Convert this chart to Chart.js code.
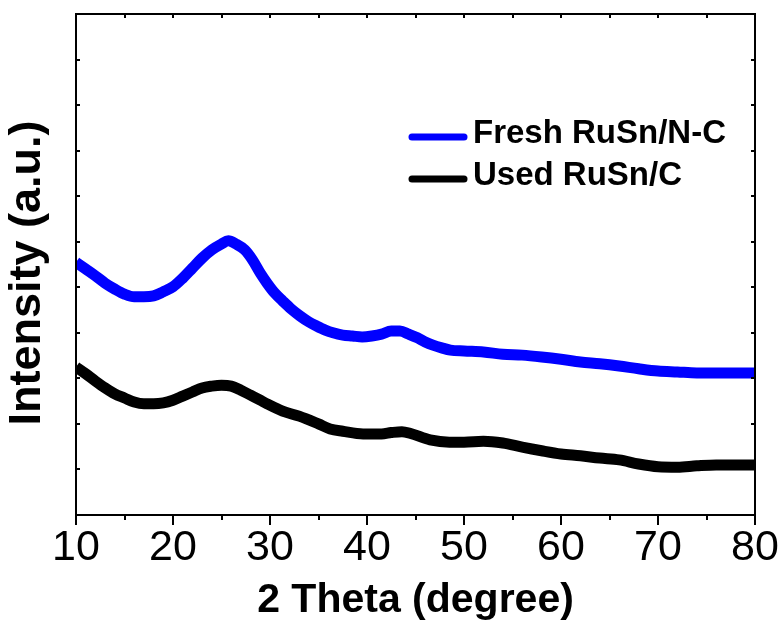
<!DOCTYPE html>
<html>
<head>
<meta charset="utf-8">
<title>XRD patterns</title>
<script src="https://cdn.jsdelivr.net/npm/chart.js@4.4.1/dist/chart.umd.min.js"></script>
<style>
  html, body { margin: 0; padding: 0; background: #ffffff; }
  #wrap { width: 781px; height: 625px; }
</style>
</head>
<body>
<div id="wrap"><canvas id="xrd" width="781" height="625"></canvas></div>
<script>
// 2θ positions (degree) and intensities (a.u.) of the two XRD patterns
const thetaFresh = [10, 11, 12, 13, 14, 15, 16, 17, 18, 19, 20, 21, 22, 23, 24, 25, 25.7, 26.5, 27.4, 28.2, 29, 29.7, 30.5, 31.3, 32.2, 33.1, 34, 34.8, 35.7, 36.5, 37.5, 38.5, 39.5, 40.5, 41.5, 42.5, 43.4, 44.3, 45.2, 46, 46.8, 47.7, 48.6, 50, 52, 54, 56, 58, 60, 62, 64, 66, 68, 70, 72, 74, 76, 78, 80];
const freshIntensity = [5.55, 5.40, 5.25, 5.09, 4.96, 4.85, 4.79, 4.79, 4.81, 4.90, 5.01, 5.20, 5.42, 5.64, 5.82, 5.95, 6.02, 5.95, 5.82, 5.60, 5.31, 5.09, 4.87, 4.70, 4.52, 4.37, 4.24, 4.15, 4.06, 4.00, 3.95, 3.93, 3.91, 3.93, 3.97, 4.04, 4.04, 3.97, 3.89, 3.80, 3.73, 3.67, 3.62, 3.60, 3.58, 3.53, 3.51, 3.47, 3.42, 3.36, 3.32, 3.27, 3.21, 3.16, 3.14, 3.12, 3.12, 3.12, 3.12];

const thetaUsed = [10, 11, 12, 13, 14, 15, 16, 17, 18, 19, 20, 21, 22, 23, 24, 25, 26, 27, 28, 29, 29.7, 31.3, 33, 35, 36.2, 37.5, 39.6, 41.5, 42.5, 43.6, 44.5, 46.5, 48.5, 50, 52, 54, 56, 58, 60, 62, 64, 66, 68, 70, 72, 74, 76, 78, 80];
const usedIntensity = [3.25, 3.10, 2.94, 2.79, 2.66, 2.57, 2.48, 2.44, 2.44, 2.46, 2.52, 2.61, 2.70, 2.79, 2.83, 2.85, 2.83, 2.74, 2.63, 2.52, 2.44, 2.28, 2.17, 2.00, 1.89, 1.84, 1.78, 1.78, 1.81, 1.83, 1.79, 1.65, 1.60, 1.60, 1.62, 1.58, 1.49, 1.41, 1.34, 1.30, 1.25, 1.21, 1.12, 1.06, 1.05, 1.08, 1.10, 1.10, 1.10];

const seriesLabels = ['Fresh RuSn/N-C', 'Used RuSn/C'];
const seriesColors = ['#0000ff', '#000000'];

// axis ticks
const xMajorTicks = [10, 20, 30, 40, 50, 60, 70, 80];
const xMinorTicks = [15, 25, 35, 45, 55, 65, 75];
const yTicks = [0, 1, 2, 3, 4, 5, 6, 7, 8, 9, 10, 11];

const FONT = "'Liberation Sans', Arial, Helvetica, sans-serif";

function toPoints(xs, ys) {
  return xs.map((x, i) => ({ x: x, y: ys[i] }));
}

// Closed frame with small inward ticks, outward ticks on the bottom axis
const framePlugin = {
  id: 'frame',
  afterDatasetsDraw(chart) {
    const { ctx, chartArea: a, scales: { x, y } } = chart;
    ctx.save();
    ctx.strokeStyle = '#000';
    ctx.lineWidth = 2;
    ctx.lineCap = 'butt';
    ctx.strokeRect(a.left, a.top, a.right - a.left, a.bottom - a.top);
    ctx.beginPath();
    yTicks.forEach(v => {
      const py = Math.round(y.getPixelForValue(v));
      ctx.moveTo(a.left, py); ctx.lineTo(a.left + 4, py);
      ctx.moveTo(a.right, py); ctx.lineTo(a.right - 4, py);
    });
    xMajorTicks.forEach(v => {
      const px = Math.round(x.getPixelForValue(v));
      ctx.moveTo(px, a.bottom); ctx.lineTo(px, a.bottom + 10);
      ctx.moveTo(px, a.top); ctx.lineTo(px, a.top + 4);
    });
    xMinorTicks.forEach(v => {
      const px = Math.round(x.getPixelForValue(v));
      ctx.moveTo(px, a.bottom); ctx.lineTo(px, a.bottom + 5);
      ctx.moveTo(px, a.top); ctx.lineTo(px, a.top + 4);
    });
    ctx.stroke();
    ctx.restore();
  }
};

// Rotated y-axis title
const yTitlePlugin = {
  id: 'yTitle',
  afterDraw(chart) {
    const { ctx } = chart;
    ctx.save();
    ctx.translate(28, 273);
    ctx.rotate(-Math.PI / 2);
    ctx.fillStyle = '#000';
    ctx.font = 'bold 45px ' + FONT;
    ctx.textAlign = 'center';
    ctx.textBaseline = 'middle';
    ctx.fillText('Intensity (a.u.)', 0, 0);
    ctx.restore();
  }
};

// Legend inside the plot area
const legendPlugin = {
  id: 'insideLegend',
  afterDraw(chart) {
    const { ctx } = chart;
    const rows = [137, 179];
    ctx.save();
    chart.data.datasets.forEach((ds, i) => {
      const yy = rows[i];
      ctx.strokeStyle = ds.borderColor;
      ctx.lineWidth = 7;
      ctx.lineCap = 'round';
      ctx.beginPath();
      ctx.moveTo(412, yy);
      ctx.lineTo(464, yy);
      ctx.stroke();
      ctx.fillStyle = '#000';
      ctx.font = 'bold 33px ' + FONT;
      ctx.textAlign = 'left';
      ctx.textBaseline = 'middle';
      ctx.fillText(ds.label, 473, yy - 3);
    });
    ctx.restore();
  }
};

new Chart(document.getElementById('xrd'), {
  type: 'line',
  data: {
    datasets: [
      {
        label: seriesLabels[0],
        data: toPoints(thetaFresh, freshIntensity),
        borderColor: seriesColors[0],
        backgroundColor: seriesColors[0],
        borderWidth: 11,
        pointRadius: 0,
        cubicInterpolationMode: 'monotone',
        fill: false,
        clip: 0
      },
      {
        label: seriesLabels[1],
        data: toPoints(thetaUsed, usedIntensity),
        borderColor: seriesColors[1],
        backgroundColor: seriesColors[1],
        borderWidth: 11,
        pointRadius: 0,
        cubicInterpolationMode: 'monotone',
        fill: false,
        clip: 0
      }
    ]
  },
  options: {
    responsive: false,
    animation: false,
    devicePixelRatio: 1,
    layout: { padding: { left: 76, right: 26, top: 14, bottom: 0 } },
    plugins: {
      legend: { display: false },
      tooltip: { enabled: false },
      title: { display: false }
    },
    scales: {
      x: {
        type: 'linear',
        min: 10,
        max: 80,
        grid: { display: false, drawTicks: false },
        border: { display: false },
        afterBuildTicks(scale) {
          scale.ticks = xMajorTicks.map(v => ({ value: v }));
        },
        ticks: {
          color: '#000',
          padding: 7,
          maxRotation: 0,
          autoSkip: false,
          font: { family: FONT, size: 43, lineHeight: 1.2 }
        },
        title: {
          display: true,
          text: '2 Theta (degree)',
          color: '#000',
          padding: { top: 0, bottom: 0 },
          font: { family: FONT, size: 41, weight: 'bold', lineHeight: 1.2 }
        },
        afterFit(scale) {
          scale.height = 110;
          scale.paddingLeft = 0;
          scale.paddingRight = 0;
        }
      },
      y: {
        type: 'linear',
        min: 0,
        max: 11,
        display: false
      }
    }
  },
  plugins: [framePlugin, yTitlePlugin, legendPlugin]
});
</script>
</body>
</html>
